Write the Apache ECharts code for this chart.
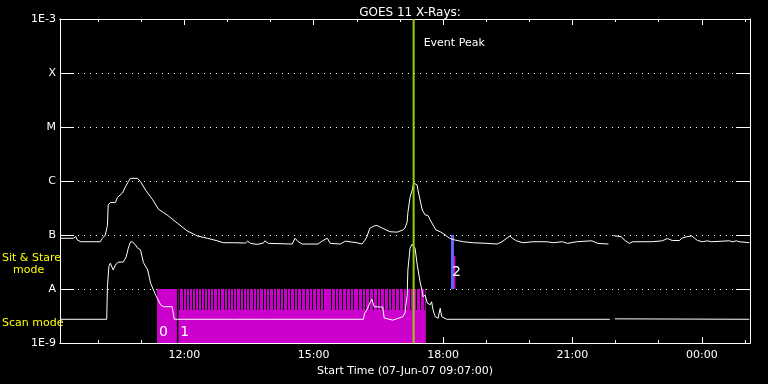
<!DOCTYPE html>
<html><head><meta charset="utf-8">
<script src="https://cdn.jsdelivr.net/npm/echarts@6/dist/echarts.min.js"></script>
<style>html,body{margin:0;padding:0;background:#000;}#c{width:768px;height:384px;}</style>
</head><body><div id="c"></div>
<script>
// ---- data (times in UT, HH:MM; after midnight belongs to next day) ----
const startTime = '09:07';
const endTime = '01:07';
const eventPeak = '17:19';
const majorTickTimes = ['12:00','15:00','18:00','21:00','00:00'];
const minorTickTimes = ['10:00','11:00','12:00','13:00','14:00','15:00','16:00','17:00','18:00','19:00','20:00','21:00','22:00','23:00','00:00','01:00'];
const yTickValues = [1e-9,1e-8,1e-7,1e-6,1e-5,1e-4,1e-3];
const yTickLabels = ['1E-9','A','B','C','M','X','1E-3'];

// GOES 11 long channel (1-8 A), W/m^2
const longTimes = ['09:08','09:26','09:29','09:31','09:36','10:03','10:06','10:10','10:13','10:14','10:17','10:24','10:27','10:34','10:38','10:42','10:45','10:55','10:59','11:06','11:13','11:16','11:24','11:31','11:36','11:50','12:04','12:18','12:32','12:46','12:54','13:08','13:25','13:28','13:32','13:41','13:50','13:52','13:57','13:59','14:30','14:34','14:38','14:44','15:06','15:12','15:19','15:23','15:37','15:44','15:53','16:00','16:07','16:11','16:14','16:18','16:24','16:28','16:36','16:46','16:56','17:04','17:07','17:10','17:11','17:14','17:17','17:19','17:21','17:24','17:25','17:28','17:31','17:35','17:39','17:42','17:44','17:46','17:50','17:56','17:58','18:03','18:09','18:16','18:28','18:41','19:01','19:15','19:22','19:29','19:33','19:37','19:42','19:51','20:05','20:24','20:33','20:46','20:53','21:06','21:27','21:35','21:50','21:53','21:57','22:08','22:12','22:19','22:24','22:50','22:51','23:05','23:12','23:19','23:29','23:32','23:39','23:46','23:50','23:54','00:01','00:08','00:13','00:38','00:43','00:48','00:52','01:06'];
const longFlux = [8.7e-8,8.7e-8,9.4e-8,8.1e-8,7.5e-8,7.5e-8,8.7e-8,1.0e-7,1.5e-7,3.6e-7,4.0e-7,4.0e-7,5.0e-7,6.0e-7,7.8e-7,9.7e-7,1.12e-6,1.12e-6,9.7e-7,6.8e-7,5.1e-7,4.5e-7,3.0e-7,2.6e-7,2.35e-7,1.67e-7,1.19e-7,9.6e-8,8.7e-8,7.8e-8,7.2e-8,7.2e-8,7.1e-8,7.7e-8,7.0e-8,6.7e-8,7.1e-8,7.8e-8,7.0e-8,6.8e-8,6.8e-8,8.7e-8,7.6e-8,6.8e-8,6.8e-8,7.8e-8,8.7e-8,7.0e-8,6.8e-8,7.7e-8,7.4e-8,7.2e-8,6.8e-8,7.9e-8,9.3e-8,1.33e-7,1.47e-7,1.5e-7,1.33e-7,1.15e-7,1.13e-7,1.24e-7,1.35e-7,1.74e-7,2.6e-7,5.0e-7,6.8e-7,9.2e-7,9.6e-7,8.4e-7,6.8e-7,4.45e-7,2.9e-7,2.35e-7,2.3e-7,1.9e-7,1.83e-7,1.53e-7,1.24e-7,1.15e-7,1.19e-7,1.0e-7,8.7e-8,8.1e-8,7.5e-8,7.2e-8,7.0e-8,6.8e-8,7.5e-8,8.8e-8,9.6e-8,8.6e-8,7.8e-8,7.2e-8,7.5e-8,7.5e-8,7.2e-8,7.5e-8,7.0e-8,7.5e-8,7.8e-8,7.0e-8,6.8e-8,null,9.7e-8,9.3e-8,8.1e-8,7.0e-8,7.5e-8,7.5e-8,7.2e-8,7.8e-8,8.6e-8,7.9e-8,7.9e-8,8.7e-8,9.3e-8,9.6e-8,8.7e-8,7.9e-8,7.5e-8,7.8e-8,7.5e-8,7.8e-8,7.5e-8,7.8e-8,7.5e-8,7.2e-8];

// GOES 11 short channel (0.5-4 A), W/m^2
const shortTimes = ['09:08','10:12','10:13','10:15','10:17','10:21','10:24','10:28','10:35','10:39','10:42','10:45','10:48','10:52','10:55','10:59','11:03','11:09','11:13','11:20','11:27','11:31','11:43','11:46','13:07','13:08','13:09','14:01','14:02','14:03','16:09','16:11','16:14','16:18','16:21','16:24','16:32','16:36','16:38','16:50','17:04','17:07','17:10','17:11','17:14','17:17','17:19','17:21','17:24','17:28','17:31','17:32','17:35','17:38','17:42','17:44','17:46','17:49','17:53','17:56','17:58','18:05','19:12','19:13','19:14','21:52','21:55','21:59','01:06'];
const shortFlux = [2.75e-9,2.75e-9,1.1e-8,2.6e-8,3.0e-8,2.25e-8,2.78e-8,3.15e-8,3.15e-8,3.9e-8,5.7e-8,7.4e-8,7.5e-8,6.5e-8,5.7e-8,5.3e-8,3.1e-8,2.25e-8,1.29e-8,7.7e-9,5.1e-9,4.7e-9,4.7e-9,2.75e-9,2.75e-9,2.9e-9,2.75e-9,2.75e-9,2.9e-9,2.75e-9,2.75e-9,3.6e-9,4.1e-9,5.5e-9,6.45e-9,4.7e-9,4.65e-9,4.65e-9,2.9e-9,2.65e-9,3.07e-9,3.6e-9,7.7e-9,2.25e-8,5.7e-8,6.8e-8,6.5e-8,5.7e-8,2.8e-8,1.35e-8,8.9e-9,7.2e-9,7.7e-9,5.5e-9,5.1e-9,5.8e-9,4.1e-9,3.07e-9,2.87e-9,4.4e-9,3.07e-9,2.75e-9,2.75e-9,2.9e-9,2.75e-9,2.75e-9,null,2.8e-9,2.75e-9];

// Observation segments
const scanStarts = ['11:22','11:50'];
const scanEnds   = ['11:50','17:36'];
const scanLabels = ['0','1'];
const scanExposures = ['11:53','11:58','12:02','12:06','12:11','12:15','12:19','12:23','12:28','12:32','12:36','12:40','12:45','12:49','12:55','12:59','13:04','13:08','13:12','13:17','13:22','13:26','13:30','13:35','13:39','13:44','13:49','13:53','13:58','14:03','14:07','14:13','14:17','14:23','14:27','14:33','14:37','14:42','14:48','14:54','14:58','15:03','15:09','15:13','15:24','15:30','15:34','15:40','15:45','15:51','15:55','16:01','16:07','16:11','16:17','16:22','16:28','16:32','16:38','16:43','16:48','16:53','16:59','17:04','17:08','17:14','17:18','17:23','17:28','17:33'];
const stareStarts = ['18:11'];
const stareEnds   = ['18:15'];
const stareLabels = ['2'];
const stareTailStarts = ['18:15'];
const stareTailEnds = ['18:16'];

// ---- helpers ----
function hrs(s){ const p = s.split(':').map(Number); let v = p[0] + p[1]/60; if (v < 9) v += 24; return v; }
const XMIN = hrs(startTime), XMAX = hrs(endTime);
const longData = longTimes.map((t,i)=>[hrs(t), longFlux[i]]);
const shortData = shortTimes.map((t,i)=>[hrs(t), shortFlux[i]]);
const FONT = 'DejaVu Sans';
const WHITE = '#ffffff';
const SCAN_LO = 1e-9, SCAN_HI = 1e-8, STARE_HI = 1e-7, EXPO_LO = 4.1e-9, TAIL_HI = 4.1e-8;

function hourLabel(v){ let h = Math.round(v) % 24; return (h<10?'0':'') + h + ':00'; }

const baseX = {
  type:'value', min:XMIN, max:XMAX,
  axisLine:{show:true, lineStyle:{color:WHITE, width:1}},
  splitLine:{show:false}
};
function xAx(pos, ticks, len, labels){
  return Object.assign({}, baseX, {
    position: pos,
    axisTick:{show:true, inside:true, length:len, customValues: ticks.map(hrs), lineStyle:{color:WHITE, width:1}},
    axisLabel: labels ? {show:true, customValues: ticks.map(hrs), formatter: hourLabel, color:WHITE, fontSize:11, fontFamily:FONT, margin:7} : {show:false}
  });
}
const xAxes = [xAx('bottom', majorTickTimes, 6, true), xAx('bottom', minorTickTimes, 3, false), xAx('top', majorTickTimes, 6, false), xAx('top', minorTickTimes, 3, false)];
xAxes[0].name = 'Start Time (07-Jun-07 ' + startTime + ':00)';
xAxes[0].nameLocation = 'middle';
xAxes[0].nameGap = 22;
xAxes[0].nameTextStyle = {color:WHITE, fontSize:11, fontFamily:FONT};

function yAx(pos, labels){
  return {
    type:'log', logBase:10, min:1e-9, max:1e-3, position:pos, splitNumber:6,
    axisLine:{show:true, lineStyle:{color:WHITE, width:1}},
    axisTick:{show:true, inside:true, length:14, customValues:yTickValues, lineStyle:{color:WHITE, width:1}},
    axisLabel: labels ? {show:true, customValues:yTickValues, color:WHITE, fontSize:11, fontFamily:FONT, margin:4,
      formatter: v => yTickLabels[Math.round(Math.log10(v)) + 9]} : {show:false},
    splitLine:{show:labels, lineStyle:{color:WHITE, width:1, type:[1,5]}}
  };
}

const scanData = scanStarts.map((s,i)=>[hrs(s), hrs(scanEnds[i]), SCAN_LO, SCAN_HI, i]);
const stareData = stareStarts.map((s,i)=>[hrs(s), hrs(stareEnds[i]), SCAN_HI, STARE_HI, i]);
const tailData = stareTailStarts.map((s,i)=>[hrs(s), hrs(stareTailEnds[i]), SCAN_HI, TAIL_HI]);
const expoData = scanExposures.map(t=>[hrs(t), EXPO_LO, SCAN_HI]);

function rectItem(api, fill){
  const a = api.coord([api.value(0), api.value(3)]);
  const b = api.coord([api.value(1), api.value(2)]);
  return {x:a[0], y:a[1], w:b[0]-a[0], h:b[1]-a[1]};
}

const option = {
  backgroundColor:'#000',
  animation:false,
  title:{text:'GOES 11 X-Rays:', left:405, top:2, textAlign:'center', textStyle:{color:WHITE, fontSize:12, fontWeight:'normal', fontFamily:FONT}},
  grid:{left:60, right:18, top:19, bottom:41, containLabel:false},
  xAxis: xAxes,
  yAxis: [yAx('left', true), yAx('right', false)],
  graphic:[
    {type:'text', left:2, top:253, style:{text:'Sit & Stare', fill:'#ffff00', fontSize:11, fontFamily:FONT}},
    {type:'text', left:13, top:265, style:{text:'mode', fill:'#ffff00', fontSize:11, fontFamily:FONT}},
    {type:'text', left:2, top:318, style:{text:'Scan mode', fill:'#ffff00', fontSize:11, fontFamily:FONT}}
  ],
  series:[
    { type:'custom', name:'scan', z:1, data:scanData, encode:{x:[0,1], y:[2,3]},
      renderItem(params, api){
        const r = rectItem(api);
        const idx = api.value(4);
        const children = [{type:'rect', shape:{x:r.x, y:r.y, width:r.w, height:r.h}, style:{fill:'#cc00cc'}}];
        if (idx > 0) children.push({type:'line', shape:{x1:r.x+0.5, y1:r.y, x2:r.x+0.5, y2:r.y+r.h}, style:{stroke:'#000', lineWidth:1.5}});
        children.push({type:'text', x:r.x + (idx>0?3:2), y:r.y + r.h - 4, style:{text:scanLabels[idx], fill:WHITE, fontSize:14, fontFamily:FONT, verticalAlign:'bottom'}});
        return {type:'group', children};
      }},
    { type:'custom', name:'exposures', z:2, data:expoData, encode:{x:0, y:[1,2]},
      renderItem(params, api){
        const a = api.coord([api.value(0), api.value(2)]);
        const b = api.coord([api.value(0), api.value(1)]);
        return {type:'line', shape:{x1:Math.round(a[0])+0.5, y1:a[1], x2:Math.round(a[0])+0.5, y2:b[1]}, style:{stroke:'#000', lineWidth:1}};
      }},
    { type:'custom', name:'stare', z:1, data:stareData, encode:{x:[0,1], y:[2,3]},
      renderItem(params, api){
        const r = rectItem(api);
        const idx = api.value(4);
        return {type:'group', children:[
          {type:'rect', shape:{x:r.x, y:r.y, width:Math.max(r.w,3), height:r.h}, style:{fill:'#6464ff'}},
          {type:'text', x:r.x + 1, y:r.y + r.h - 10, style:{text:stareLabels[idx], fill:WHITE, fontSize:14, fontFamily:FONT, verticalAlign:'bottom'}, z2:10}
        ]};
      }},
    { type:'custom', name:'stareTail', z:1, data:tailData, encode:{x:[0,1], y:[2,3]},
      renderItem(params, api){
        const r = rectItem(api);
        return {type:'rect', shape:{x:r.x, y:r.y, width:Math.max(r.w,1.5), height:r.h}, style:{fill:'#cc00cc'}};
      }},
    { type:'line', name:'long', z:3, data:longData, showSymbol:false, connectNulls:false,
      lineStyle:{color:WHITE, width:1}, itemStyle:{color:WHITE}},
    { type:'line', name:'short', z:3, data:shortData, showSymbol:false, connectNulls:false,
      lineStyle:{color:WHITE, width:1}, itemStyle:{color:WHITE}},
    { type:'custom', name:'event', z:4, data:[[hrs(eventPeak), 1e-3]], encode:{x:0, y:1},
      renderItem(params, api){
        const cs = params.coordSys;
        const p = api.coord([api.value(0), api.value(1)]);
        return {type:'group', children:[
          {type:'line', shape:{x1:p[0], y1:cs.y, x2:p[0], y2:cs.y+cs.height}, style:{stroke:'#9acd00', lineWidth:2}},
          {type:'text', x:p[0]+10, y:cs.y+24, style:{text:'Event Peak', fill:WHITE, fontSize:11, fontFamily:FONT, verticalAlign:'middle'}}
        ]};
      }}
  ]
};
const chart = echarts.init(document.getElementById('c'), null, {renderer:'canvas'});
chart.setOption(option);
</script>
</body></html>
